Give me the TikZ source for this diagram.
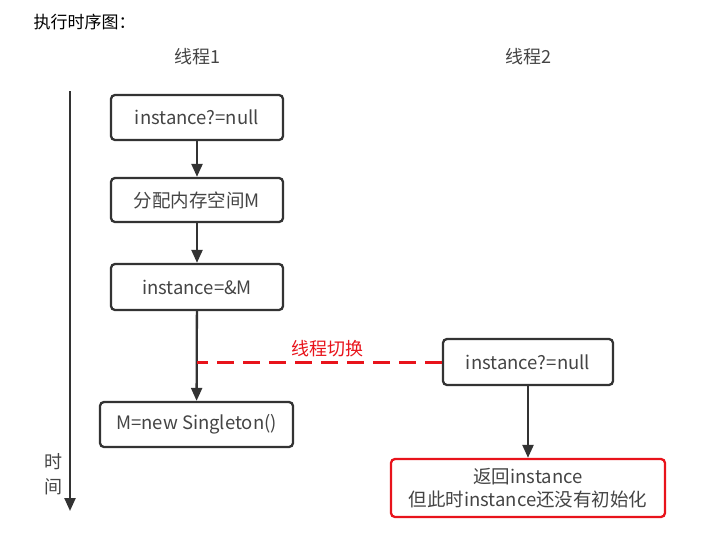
\documentclass[tikz,border=0pt]{standalone}
\usepackage{fontspec}
\setmainfont{Noto Sans CJK SC}
\usetikzlibrary{arrows.meta}
\definecolor{ln}{HTML}{333333}
\definecolor{tx}{HTML}{444444}
\definecolor{rd}{HTML}{E8131B}
\tikzset{
  box/.style={draw=ln, line width=2.3pt, rounded corners=4pt, text=tx, font=\fontsize{18.5}{22}\selectfont, inner sep=0pt, align=center},
  arr/.style={draw=ln, line width=2.3pt, -{Triangle[length=13pt,width=11pt]}},
  lbl/.style={text=tx, font=\fontsize{18}{22}\selectfont},
}
\begin{document}
\begin{tikzpicture}[x=1pt,y=-1pt]
\useasboundingbox (0,0) rectangle (716,539);
\node[anchor=west, font=\fontsize{17}{20}\selectfont, text=black] (title) at (30,22) {执行时序图：};
\node[lbl] (t1) at (197,57) {线程1};
\node[lbl] (t2) at (528,57) {线程2};
\coordinate (ax0) at (70,91);
\coordinate (ax1) at (70,511);
\draw[arr] (ax0) -- (ax1);
\node[lbl] (s1) at (54,462) {时};
\node[lbl] (s2) at (54,487) {间};
\node[box, minimum width=172pt, minimum height=45pt] (b1) at (197,117.5) {instance?=null};
\node[box, minimum width=172pt, minimum height=44pt] (b2) at (197,200) {分配内存空间M};
\node[box, minimum width=172pt, minimum height=46pt] (b3) at (197,287) {instance=\&M};
\node[box, minimum width=193pt, minimum height=45pt] (b4) at (196.5,424.5) {M=new Singleton()};
\node[box, minimum width=170pt, minimum height=46pt] (b5) at (528,362) {instance?=null};
\node[box, draw=rd, minimum width=274pt, minimum height=58pt, font=\fontsize{18.5}{23}\selectfont] (b6) at (528,488) {返回instance\\但此时instance还没有初始化};
\draw[arr] (b1) -- (b2);
\draw[arr] (b2) -- (b3);
\draw[arr] (b3) -- (b4);
\draw[arr] (b5) -- (b6);
\coordinate (sw) at (197,362);
\draw[draw=rd, line width=3pt, dash pattern=on 17pt off 9pt] (b5.west) -- (sw);
\node[text=rd, font=\fontsize{18}{22}\selectfont] (sl) at (327,349) {线程切换};
\end{tikzpicture}
\end{document}
